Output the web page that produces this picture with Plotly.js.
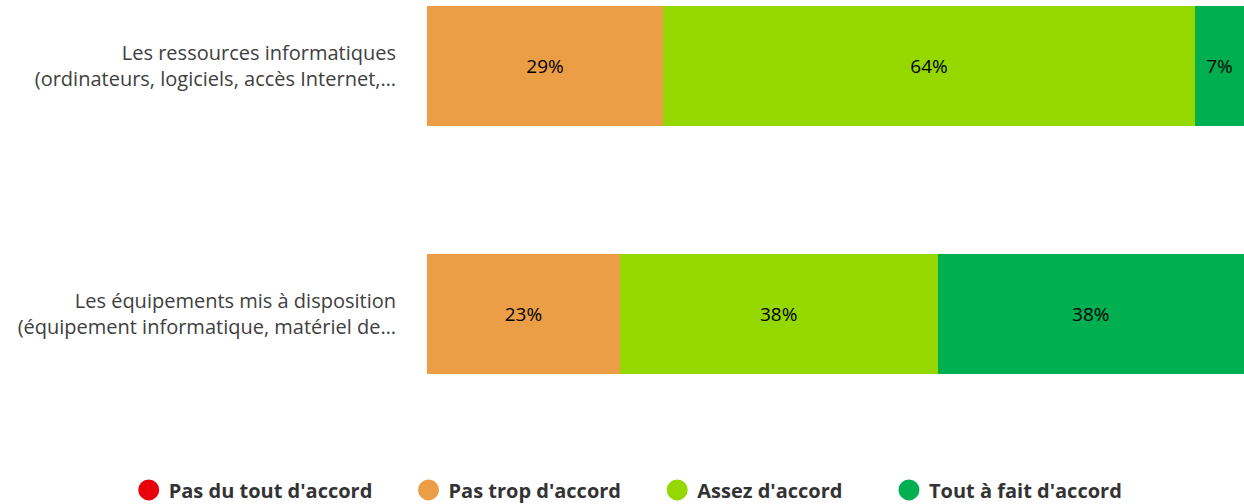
<!DOCTYPE html>
<html>
<head>
<meta charset="utf-8">
<script src="https://cdn.plot.ly/plotly-3.0.1.min.js"></script>
<style>html,body{margin:0;padding:0;background:#fff;}#chart{width:1244px;height:504px;}</style>
</head>
<body>
<div id="chart"></div>
<script>
const categories = [
  "Les ressources informatiques<br>(ordinateurs, logiciels, accès Internet,…",
  "Les équipements mis à disposition<br>(équipement informatique, matériel de…"
];
const seriesNames = ["Pas du tout d'accord", "Pas trop d'accord", "Assez d'accord", "Tout à fait d'accord"];
const seriesColors = ["#E8000B", "#EB9E45", "#94D800", "#00B050"];
const pasDuTout = [0, 0];
const pasTrop = [28.9, 23.6];
const assez = [65.1, 38.9];
const toutAFait = [6.0, 37.5];
const pasTropLabels = ["29%", "23%"];
const assezLabels = ["64%", "38%"];
const toutAFaitLabels = ["7%", "38%"];

const FONT = "Open Sans, Lato, sans-serif";
const values = [pasDuTout, pasTrop, assez, toutAFait];
const labels = [["", ""], pasTropLabels, assezLabels, toutAFaitLabels];

const traces = [];
values.forEach((v, i) => {
  traces.push({
    type: "bar", orientation: "h", y: categories, x: v,
    name: seriesNames[i], showlegend: false,
    marker: {color: seriesColors[i], line: {width: 0}},
    text: labels[i], textposition: "inside", insidetextanchor: "middle",
    textangle: 0, constraintext: "none",
    textfont: {family: FONT, size: 19, color: "#000"},
    hoverinfo: "skip", width: 0.484
  });
});
const pads = [6, 6, 8, 0];
seriesNames.forEach((n, i) => {
  traces.push({
    type: "scatter", mode: "markers", x: [null], y: [null],
    name: n + "\u00a0".repeat(pads[i]),
    marker: {color: seriesColors[i], size: 22, symbol: "circle", line: {color: seriesColors[i], width: 5}},
    showlegend: true, hoverinfo: "skip"
  });
});

const layout = {
  width: 1244, height: 504,
  margin: {l: 0, r: 0, t: 0, b: 64, pad: 0, autoexpand: false},
  barmode: "stack",
  paper_bgcolor: "#fff", plot_bgcolor: "#fff",
  showlegend: true,
  xaxis: {type: "linear", range: [0, 100], domain: [427 / 1244, 1], visible: false, fixedrange: true},
  yaxis: {
    type: "category", range: [1.508, -0.266], automargin: false,
    showgrid: false, zeroline: false, showline: false, ticks: "",
    ticklabelstandoff: 30,
    tickfont: {family: FONT, size: 20, color: "#404040"}
  },
  legend: {
    orientation: "h", x: 0.505, xanchor: "center", y: 0.028, yanchor: "middle",
    xref: "container", yref: "container", traceorder: "normal",
    font: {family: FONT, size: 20, color: "#333", weight: "bold"},
    itemsizing: "trace"
  },
  font: {family: FONT}
};
Plotly.newPlot("chart", traces, layout, {displayModeBar: false, staticPlot: true});
</script>
</body>
</html>
